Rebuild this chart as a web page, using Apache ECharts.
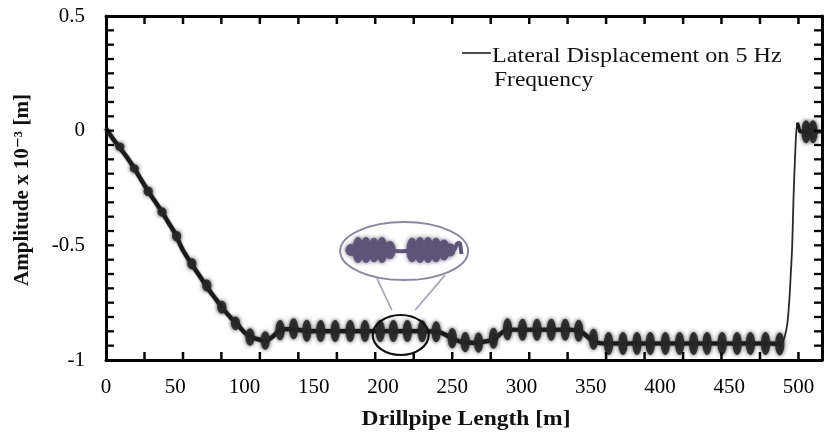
<!DOCTYPE html>
<html><head><meta charset="utf-8">
<script src="https://cdn.jsdelivr.net/npm/echarts@6/dist/echarts.min.js"></script>
<style>html,body{margin:0;padding:0;background:#fff}#c{width:827px;height:435px}</style>
</head><body><div id="c"></div>
<script>
const FONT = '"Liberation Serif", "Times New Roman", "DejaVu Serif", serif';

// tick labels
const xTickLabels = [0, 50, 100, 150, 200, 250, 300, 350, 400, 450, 500];
const yTickLabels = [0.5, 0, -0.5, -1];
// small frame tick marks (positions)
const xFrameTicks = [27.8, 55.6, 83.3, 111.1, 138.9, 166.7, 194.4, 222.2, 250, 277.8, 305.6, 333.3, 361.1, 388.9, 416.7, 444.4, 472.2, 500];
const yFrameTicks = [-0.9375, -0.875, -0.8125, -0.75, -0.6875, -0.625, -0.5625, -0.5, -0.4375, -0.375, -0.3125, -0.25, -0.1875, -0.125, -0.0625,
  0, 0.0625, 0.125, 0.1875, 0.25, 0.3125, 0.375, 0.4375];

// centre line of the lateral displacement band
const lineX = [0, 5, 10, 15, 20, 25, 30, 35, 40, 45, 50, 55, 60, 65, 70, 75, 80, 85, 90, 95,
  100, 105, 110, 115, 120, 125, 130, 135, 140, 145, 150, 155, 160, 165, 170, 175, 180, 185, 190, 195,
  200, 205, 210, 215, 220, 225, 230, 235, 240, 245, 250, 255, 260, 265, 270, 275, 280, 285, 290, 295,
  300, 305, 310, 315, 320, 325, 330, 335, 340, 345, 350, 355, 360, 365, 370, 375, 380, 385, 390, 395,
  400, 405, 410, 415, 420, 425, 430, 435, 440, 445, 450, 455, 460, 465, 470, 475, 480, 485, 488];
const lineY = [0.01, -0.035, -0.075, -0.115, -0.16, -0.21, -0.26, -0.305, -0.35, -0.40, -0.45, -0.515, -0.565, -0.61, -0.655, -0.70, -0.74, -0.78, -0.815, -0.845,
  -0.88, -0.90, -0.91, -0.915, -0.90, -0.872, -0.865, -0.865, -0.87, -0.872, -0.874, -0.874, -0.874, -0.874, -0.874, -0.874, -0.874, -0.874, -0.874, -0.874,
  -0.874, -0.874, -0.874, -0.874, -0.874, -0.874, -0.875, -0.875, -0.877, -0.89, -0.905, -0.918, -0.922, -0.925, -0.924, -0.918, -0.91, -0.885, -0.868, -0.868,
  -0.868, -0.868, -0.868, -0.868, -0.868, -0.868, -0.868, -0.868, -0.872, -0.885, -0.91, -0.925, -0.928, -0.928, -0.928, -0.928, -0.928, -0.928, -0.928, -0.928,
  -0.928, -0.928, -0.928, -0.928, -0.928, -0.928, -0.928, -0.928, -0.928, -0.928, -0.928, -0.928, -0.928, -0.928, -0.928, -0.928, -0.928, -0.93, -0.932];

// steep rise near the end
const riseX = [488, 490, 492, 493.5, 494.5, 495.5, 496.4, 497.5, 498.5, 499.3];
const riseY = [-0.932, -0.90, -0.84, -0.73, -0.62, -0.50, -0.30, -0.12, 0.0, 0.035];

// tail near zero
const tailX = [499.3, 501, 505, 510, 515, 517];
const tailY = [0.035, -0.005, -0.005, -0.005, -0.005, -0.005];

// beat "beads" of the oscillation: position, centre value, half amplitude
const beadX = [10, 20.5, 30.5, 40.5, 51, 62, 72.8, 83.6, 93.5, 104, 115, 125.7, 135.5, 145, 155, 165.5, 176.3, 187, 198, 207.5,
  217.6, 228.3, 238.4, 250, 259.4, 269, 279.8, 289.9, 300.8, 311.2, 321.5, 331.6, 341.3, 352, 362.9, 373.3, 383.4, 393, 403.9, 414.2,
  424.3, 434, 444.9, 455.7, 465.3, 476.2, 486.5, 505.5, 510.5];
const beadY = [-0.07, -0.165, -0.265, -0.355, -0.46, -0.58, -0.675, -0.77, -0.84, -0.90, -0.915, -0.87, -0.864, -0.872, -0.874, -0.874, -0.874, -0.874, -0.874, -0.874,
  -0.874, -0.875, -0.877, -0.905, -0.922, -0.924, -0.905, -0.866, -0.868, -0.868, -0.868, -0.868, -0.872, -0.91, -0.928, -0.928, -0.928, -0.928, -0.928, -0.928,
  -0.928, -0.928, -0.928, -0.928, -0.928, -0.928, -0.93, -0.005, -0.005];
const beadAmp = [0.018, 0.018, 0.02, 0.02, 0.022, 0.024, 0.026, 0.028, 0.03, 0.038, 0.04, 0.044, 0.046, 0.048, 0.048, 0.048, 0.048, 0.048, 0.048, 0.048,
  0.048, 0.048, 0.046, 0.044, 0.044, 0.044, 0.046, 0.048, 0.048, 0.048, 0.048, 0.048, 0.048, 0.046, 0.05, 0.05, 0.05, 0.05, 0.05, 0.05,
  0.05, 0.05, 0.05, 0.05, 0.05, 0.05, 0.05, 0.05, 0.05];

// magnified inset waveform
const insetLineX = [0, 5, 10, 20, 30, 40, 46, 50, 55, 60, 64, 70, 80, 90, 100, 104, 107, 109, 112, 113.5];
const insetLineY = [0, 0, 0, 0, 0, 0, -0.05, -0.1, -0.1, -0.05, 0, 0, 0, 0, 0, 0, 0.1, 0.5, 0.55, -0.3];
const insetBeadX = [3, 10, 18, 26, 34, 42, 64, 72, 80, 88, 96, 102];
const insetBeadY = [0, 0, 0, 0, 0, 0, 0, 0, 0, 0, 0, 0];
const insetBeadAmp = [0.45, 1.0, 1.0, 0.95, 1.0, 0.7, 0.95, 1.0, 1.0, 0.95, 0.8, 0.5];

const X_MIN = 0, X_MAX = 517, Y_MIN = -1, Y_MAX = 0.5;

const zip = (a, b) => a.map((v, i) => [v, b[i]]);
const zip3 = (a, b, c) => a.map((v, i) => [v, b[i], c[i]]);

function beadRenderer(rx, color, op) {
  return function (params, api) {
    const x = api.value(0), y = api.value(1), a = api.value(2);
    const c = api.coord([x, y]);
    const t = api.coord([x, y + a]);
    const ry = Math.abs(c[1] - t[1]);
    return {
      type: 'ellipse',
      shape: { cx: c[0], cy: c[1], rx: rx, ry: ry },
      style: { fill: color, opacity: op, shadowBlur: 4, shadowColor: color }
    };
  };
}

// frame tick marks as rect symbols on the frame edges
function tickSeries(data, size, offset) {
  return { type: 'scatter', xAxisIndex: 0, yAxisIndex: 0, data: data, symbol: 'rect',
    symbolSize: size, symbolOffset: offset, clip: false, silent: true, z: 8,
    itemStyle: { color: '#000', opacity: 1 } };
}

const chart = echarts.init(document.getElementById('c'), null, { renderer: 'canvas' });

chart.setOption({
  animation: false,
  backgroundColor: '#fff',
  grid: [
    { left: 106, right: 5, top: 16, bottom: 75 },
    { left: 348, top: 224, width: 115, height: 52 }
  ],
  xAxis: [
    { type: 'value', gridIndex: 0, min: X_MIN, max: X_MAX, interval: 50, position: 'bottom',
      axisLine: { show: true, onZero: false, lineStyle: { color: '#000', width: 3 } },
      axisTick: { show: false }, splitLine: { show: false },
      axisLabel: { show: true, margin: 17, fontSize: 21, fontFamily: FONT, color: '#000', showMaxLabel: false,
        formatter: v => xTickLabels.includes(v) ? String(v) : '' } },
    { type: 'value', gridIndex: 0, min: X_MIN, max: X_MAX, interval: 50, position: 'top',
      axisLine: { show: true, onZero: false, lineStyle: { color: '#000', width: 3 } },
      axisTick: { show: false }, axisLabel: { show: false }, splitLine: { show: false } },
    { type: 'value', gridIndex: 1, min: 0, max: 115, show: false }
  ],
  yAxis: [
    { type: 'value', gridIndex: 0, min: Y_MIN, max: Y_MAX, interval: 0.5, position: 'left',
      axisLine: { show: true, onZero: false, lineStyle: { color: '#000', width: 3 } },
      axisTick: { show: false }, splitLine: { show: false },
      axisLabel: { margin: 21, fontSize: 21, fontFamily: FONT, color: '#000',
        formatter: v => yTickLabels.includes(v) ? String(v) : '' } },
    { type: 'value', gridIndex: 0, min: Y_MIN, max: Y_MAX, interval: 0.5, position: 'right',
      axisLine: { show: true, onZero: false, lineStyle: { color: '#000', width: 3 } },
      axisTick: { show: false }, axisLabel: { show: false }, splitLine: { show: false } },
    { type: 'value', gridIndex: 1, min: -2, max: 2, show: false }
  ],
  series: [
    tickSeries(xFrameTicks.map(v => [v, Y_MIN]), [2.5, 8], [0, -4]),
    tickSeries(xFrameTicks.map(v => [v, Y_MAX]), [2.5, 8], [0, 4]),
    tickSeries(yFrameTicks.map(v => [X_MIN, v]), [8, 2.3], [4, 0]),
    tickSeries(yFrameTicks.map(v => [X_MAX, v]), [8, 2.3], [-4, 0]),
    { type: 'line', xAxisIndex: 0, yAxisIndex: 0, data: zip(lineX, lineY), showSymbol: false, smooth: 0.3,
      lineStyle: { color: '#1a1a1a', width: 4.2, shadowBlur: 2, shadowColor: '#333' }, z: 3 },
    { type: 'line', xAxisIndex: 0, yAxisIndex: 0, data: zip(riseX, riseY), showSymbol: false, smooth: 0.3,
      lineStyle: { color: '#2a2a2a', width: 1.8 }, z: 3 },
    { type: 'line', xAxisIndex: 0, yAxisIndex: 0, data: zip(tailX, tailY), showSymbol: false,
      lineStyle: { color: '#1a1a1a', width: 3.5 }, z: 3 },
    { type: 'custom', xAxisIndex: 0, yAxisIndex: 0, data: zip3(beadX, beadY, beadAmp),
      renderItem: beadRenderer(4.6, '#262626', 0.9), z: 4 },
    { type: 'line', xAxisIndex: 2, yAxisIndex: 2, data: zip(insetLineX, insetLineY), showSymbol: false,
      lineStyle: { color: '#5e5579', width: 4 }, z: 5 },
    { type: 'custom', xAxisIndex: 2, yAxisIndex: 2, data: zip3(insetBeadX, insetBeadY, insetBeadAmp),
      renderItem: beadRenderer(5.5, '#5e5579', 1), z: 5 }
  ]
});

const px = p => chart.convertToPixel({ xAxisIndex: 0, yAxisIndex: 0 }, p);
const zc = px([212.8, -0.891]);
const ic = px([215.3, -0.525]);
const l1a = px([195.6, -0.644]), l1b = px([206.4, -0.782]);
const l2a = px([244.9, -0.629]), l2b = px([223.3, -0.782]);

chart.setOption({
  graphic: [
    { type: 'ellipse', z: 10, shape: { cx: zc[0], cy: zc[1], rx: 28, ry: 20 },
      style: { fill: 'none', stroke: '#111', lineWidth: 2.2 } },
    { type: 'ellipse', z: 1, shape: { cx: ic[0], cy: ic[1], rx: 64, ry: 29 },
      style: { fill: '#fff', stroke: '#8d88a0', lineWidth: 2 } },
    { type: 'line', z: 1, shape: { x1: l1a[0], y1: l1a[1], x2: l1b[0], y2: l1b[1] },
      style: { stroke: '#a29eb2', lineWidth: 1.6 } },
    { type: 'line', z: 1, shape: { x1: l2a[0], y1: l2a[1], x2: l2b[0], y2: l2b[1] },
      style: { stroke: '#a29eb2', lineWidth: 1.6 } },
    { type: 'line', z: 10, shape: { x1: 462, y1: 53, x2: 491, y2: 53 },
      style: { stroke: '#222', lineWidth: 1.6 } },
    { type: 'text', z: 10, x: 492, y: 56, scaleX: 1.15,
      style: { text: 'Lateral Displacement on 5 Hz', fontSize: 21, fontFamily: FONT, fill: '#111',
        align: 'left', verticalAlign: 'middle' } },
    { type: 'text', z: 10, x: 494, y: 80, scaleX: 1.12,
      style: { text: 'Frequency', fontSize: 21, fontFamily: FONT, fill: '#111',
        align: 'left', verticalAlign: 'middle' } },
    { type: 'text', z: 10, x: 466, y: 420, scaleX: 1.12,
      style: { text: 'Drillpipe Length [m]', fontSize: 21, fontWeight: 'bold', fontFamily: FONT, fill: '#111',
        align: 'center', verticalAlign: 'middle' } },
    { type: 'text', z: 10, x: 23, y: 190, rotation: Math.PI / 2,
      style: { text: 'Amplitude x 10\u207B\u00B3 [m]', fontSize: 21, fontWeight: 'bold', fontFamily: FONT, fill: '#111',
        align: 'center', verticalAlign: 'middle' } }
  ]
});
</script>
</body></html>
